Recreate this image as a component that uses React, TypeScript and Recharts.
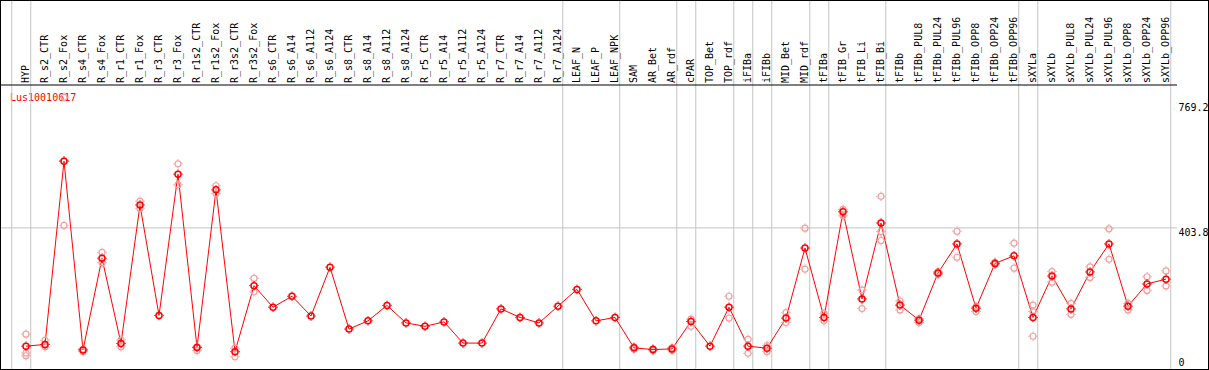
import React from 'react';
import { ComposedChart, Line, XAxis, YAxis, ReferenceLine, Customized } from 'recharts';

const GENE = 'Lus10010617';

const CATEGORIES = [
  'HYP', 'R_s2_CTR', 'R_s2_Fox', 'R_s4_CTR', 'R_s4_Fox', 'R_r1_CTR', 'R_r1_Fox', 'R_r3_CTR', 'R_r3_Fox',
  'R_r1s2_CTR', 'R_r1s2_Fox', 'R_r3s2_CTR', 'R_r3s2_Fox', 'R_s6_CTR', 'R_s6_A14', 'R_s6_A112', 'R_s6_A124',
  'R_s8_CTR', 'R_s8_A14', 'R_s8_A112', 'R_s8_A124', 'R_r5_CTR', 'R_r5_A14', 'R_r5_A112', 'R_r5_A124',
  'R_r7_CTR', 'R_r7_A14', 'R_r7_A112', 'R_r7_A124', 'LEAF_N', 'LEAF_P', 'LEAF_NPK', 'SAM', 'AR_Bet', 'AR_rdf',
  'cPAR', 'TOP_Bet', 'TOP_rdf', 'iFIBa', 'iFIBb', 'MID_Bet', 'MID_rdf', 'tFIBa', 'tFIB_Gr', 'tFIB_Li', 'tFIB_Bi',
  'tFIBb', 'tFIBb_PUL8', 'tFIBb_PUL24', 'tFIBb_PUL96', 'tFIBb_OPP8', 'tFIBb_OPP24', 'tFIBb_OPP96', 'sXYLa',
  'sXYLb', 'sXYLb_PUL8', 'sXYLb_PUL24', 'sXYLb_PUL96', 'sXYLb_OPP8', 'sXYLb_OPP24', 'sXYLb_OPP96',
];

const MEAN = [
  58, 63, 599, 47, 315, 66, 471, 148, 561, 54, 515, 42, 235, 172, 204, 146, 289, 108, 132, 177, 126,
  116, 129, 67, 67, 167, 142, 126, 175, 224, 132, 142, 53, 48, 50, 130, 58, 172, 58, 52, 140, 345,
  142, 451, 196, 418, 178, 134, 272, 357, 169, 300, 322, 142, 263, 167, 275, 357, 175, 240, 254,
];

const REP_A = [
  93, 75, 786, 49, 332, 76, 482, null, 591, 56, 527, 52, 256, null, null, null, null, null, null, null, null,
  null, null, null, null, null, null, null, null, null, null, null, 56, 50, 53, 137, null, 204, 78, 60, 156, 403,
  154, 458, 222, 496, 190, 138, 276, 394, 173, 303, 359, 178, 276, 183, 290, 401, 183, 261, 278,
];

const REP_B = [
  38, 56, 411, 42, 302, 56, 460, null, 530, 45, 504, 27, 217, null, null, null, null, null, null, null, null,
  null, null, null, null, null, null, null, null, null, null, null, 49, 45, 46, 116, null, 140, 37, 42, 127, 283,
  132, 439, 168, 393, 164, 127, 268, 318, 159, 297, 286, 159, 245, 151, 259, 312, 164, 221, 234,
];

const REP_C = [
  30, null, 600, null, null, null, null, null, null, null, null, null, null, null, null, null, null, null, null, null, null,
  null, null, null, null, null, null, null, null, null, null, null, null, null, null, null, null, null, null, null, null, null,
  null, null, null, 367, null, null, null, null, null, null, null, 87, null, null, null, null, null, null, null,
];

const SEPARATORS = [-1, 0, 28, 31, 34, 35, 37, 38, 39, 41, 42, 45, 52, 53, 60];
const Y_TICKS = [0, 403.8, 769.2];
const GRID_VALUE = 403.8;

const PLOT_WIDTH = 1177;
const X_DOMAIN: [number, number] = [-26 / 19, -26 / 19 + PLOT_WIDTH / 19];
const Y_DOMAIN: [number, number] = [-11.7, 821.6];

const FONT = '"DejaVu Sans Mono", "Liberation Mono", monospace';
const RED = '#ff0000';
const PINK = '#f2a0a0';
const GRID = '#c4c4c4';

const data = CATEGORIES.map((name, i) => ({
  idx: i,
  name,
  mean: MEAN[i],
  repA: REP_A[i],
  repB: REP_B[i],
  repC: REP_C[i],
}));

function makeDot(color: string, width: number) {
  return (props: any) => {
    const { cx, cy, value, index } = props;
    if (cx == null || cy == null || value == null) return <g key={`e${index}`} />;
    return (
      <g key={`d${index}`}>
        <circle cx={cx} cy={cy} r={3} fill="none" stroke={color} strokeWidth={width} />
        <line x1={cx} x2={cx} y1={cy - 4.8} y2={cy - 3.5} stroke={color} strokeWidth={1} />
        <line x1={cx} x2={cx} y1={cy + 3.5} y2={cy + 4.8} stroke={color} strokeWidth={1} />
        <line x1={cx - 4.8} x2={cx - 3.5} y1={cy} y2={cy} stroke={color} strokeWidth={1} />
        <line x1={cx + 3.5} x2={cx + 4.8} y1={cy} y2={cy} stroke={color} strokeWidth={1} />
      </g>
    );
  };
}

const MainDot = makeDot(RED, 1.5);
const RepDot = makeDot(PINK, 1.2);

function HeaderTick(props: any) {
  const { x, y, payload } = props;
  const label = CATEGORIES[payload.value] ?? '';
  const tx = x + 3;
  return (
    <text
      x={tx}
      y={y}
      transform={`rotate(-90 ${tx} ${y})`}
      textAnchor="start"
      fontFamily={FONT}
      fontSize={10}
      fill="#000"
    >
      {label}
    </text>
  );
}

function ValueTick(props: any) {
  const { x, y, payload } = props;
  const baseline = Math.min(y + 8, 365.5);
  return (
    <text x={x} y={baseline} textAnchor="start" fontFamily={FONT} fontSize={10} fill="#000">
      {payload.value}
    </text>
  );
}

function SeparatorShape(props: any) {
  const { x1, x2, y1, y2 } = props;
  return <line x1={x1} x2={x2} y1={0} y2={Math.max(y1, y2)} stroke={GRID} strokeWidth={1} />;
}

function Title() {
  return (
    <text x={10} y={101} fontFamily={FONT} fontSize={10} fill={RED}>
      {GENE}
    </text>
  );
}

export default function App() {
  return (
    <div style={{ position: 'absolute', left: 0, top: 0, width: 1209, height: 370, background: '#fff' }}>
      <ComposedChart width={1209} height={370} data={data} margin={{ top: 0, right: 0, bottom: 0, left: 0 }}>
        <XAxis
          dataKey="idx"
          type="number"
          orientation="top"
          height={85}
          domain={X_DOMAIN}
          allowDataOverflow
          ticks={data.map((d) => d.idx)}
          interval={0}
          tick={<HeaderTick />}
          tickLine={false}
          tickSize={0}
          tickMargin={2}
          axisLine={{ stroke: '#000', strokeWidth: 1 }}
        />
        <YAxis
          orientation="right"
          width={1209 - PLOT_WIDTH}
          domain={Y_DOMAIN}
          allowDataOverflow
          ticks={Y_TICKS}
          interval={0}
          tick={<ValueTick />}
          tickLine={false}
          tickSize={0}
          tickMargin={1.5}
          axisLine={false}
        />
        {SEPARATORS.map((s) => (
          <ReferenceLine key={`sep${s}`} x={s + 0.25} stroke={GRID} shape={<SeparatorShape />} />
        ))}
        <ReferenceLine y={GRID_VALUE} stroke={GRID} strokeWidth={1} />
        <Customized component={<Title />} />
        <Line dataKey="repA" stroke="none" isAnimationActive={false} dot={RepDot} activeDot={false} connectNulls={false} />
        <Line dataKey="repB" stroke="none" isAnimationActive={false} dot={RepDot} activeDot={false} connectNulls={false} />
        <Line dataKey="repC" stroke="none" isAnimationActive={false} dot={RepDot} activeDot={false} connectNulls={false} />
        <Line dataKey="mean" stroke={RED} strokeWidth={1} isAnimationActive={false} dot={MainDot} activeDot={false} />
      </ComposedChart>
      <div
        style={{
          position: 'absolute',
          left: 0,
          top: 0,
          width: 1209,
          height: 370,
          border: '1px solid #000',
          boxSizing: 'border-box',
          pointerEvents: 'none',
        }}
      />
    </div>
  );
}
